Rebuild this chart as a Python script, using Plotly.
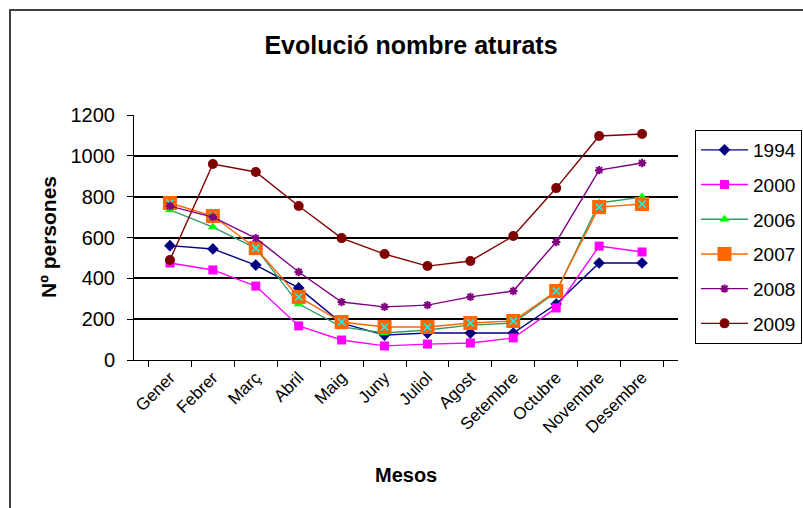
import plotly.graph_objects as go

months = ["Gener", "Febrer", "Març", "Abril", "Maig", "Juny", "Juliol",
          "Agost", "Setembre", "Octubre", "Novembre", "Desembre"]

v1994 = [560, 544, 465, 353, 181, 122, 132, 132, 132, 274, 475, 475]
v2000 = [475, 441, 362, 167, 98, 69, 78, 83, 108, 255, 558, 529]
v2006 = [735, 651, 548, 274, 162, 132, 147, 171, 181, 333, 769, 798]
v2007 = [769, 705, 548, 309, 186, 162, 162, 181, 191, 338, 749, 764]
v2008 = [754, 700, 597, 431, 284, 260, 269, 309, 338, 578, 930, 965]
v2009 = [490, 960, 921, 754, 597, 519, 460, 485, 607, 842, 1097, 1107]

y_ticks = [0, 200, 400, 600, 800, 1000, 1200]
grid_vals = [200, 400, 600, 800, 1000]

FONT = "Liberation Sans, Arial, sans-serif"

fig = go.Figure()

# invisible trace on y2 so the grid axis is drawn
fig.add_trace(go.Scatter(x=[months[0]], y=[None], yaxis="y2", showlegend=False,
                         hoverinfo="skip", mode="markers"))

def add(name, vals, lcolor, symbol, mcolor, size, mline=None):
    fig.add_trace(go.Scatter(
        x=months, y=vals, name=name, legendgroup=name, mode="lines+markers",
        line=dict(color=lcolor, width=1.4),
        marker=dict(symbol=symbol, color=mcolor, size=size,
                    line=mline if mline else dict(width=0)),
    ))

add("1994", v1994, "#000080", "diamond", "#000080", 9)
add("2000", v2000, "#FF00FF", "square", "#FF00FF", 9)
add("2006", v2006, "#339966", "triangle-up", "#00FF00", 9)
add("2007", v2007, "#FF6600", "square", "#FF6600", 14)
fig.add_trace(go.Scatter(
    x=months, y=v2007, name="2007", legendgroup="2007", showlegend=False,
    mode="markers", hoverinfo="skip",
    marker=dict(symbol="x-thin", size=7, line=dict(color="#00FFFF", width=1.5)),
))
add("2008", v2008, "#800080", "asterisk-open", "#800080", 7,
    mline=dict(color="#800080", width=2))
add("2009", v2009, "#800000", "circle", "#800000", 10)

fig.update_layout(
    width=803, height=508,
    margin=dict(l=134, r=125, t=115, b=148, autoexpand=False),
    paper_bgcolor="white", plot_bgcolor="white",
    font=dict(family=FONT, color="black"),
    title=dict(text="<b>Evolució nombre aturats</b>", x=411/803, xanchor="center",
               y=1-45/508, yanchor="middle", font=dict(size=25, family=FONT)),
    xaxis=dict(
        type="category", showgrid=False, showline=True, linecolor="black", linewidth=1,
        ticks="outside", ticklen=6, tickcolor="black", tickson="boundaries",
        tickangle=-45, tickfont=dict(size=17, family=FONT), zeroline=False,
        automargin=False,
    ),
    yaxis=dict(
        range=[0, 1200], tickvals=y_ticks, showgrid=False, showline=True,
        linecolor="black", linewidth=1, ticks="outside", ticklen=6, tickcolor="black",
        tickfont=dict(size=20, family=FONT), zeroline=False, ticklabelstandoff=8,
        automargin=False,
    ),
    yaxis2=dict(
        overlaying="y", range=[0, 1200], tickvals=grid_vals, showgrid=True,
        gridcolor="black", gridwidth=1.5, showticklabels=False, ticks="",
        showline=False, zeroline=False, side="left",
    ),
    legend=dict(
        x=(695-134)/544, y=(360-130)/245, xanchor="left", yanchor="top",
        bordercolor="black", borderwidth=1, bgcolor="white", itemwidth=47,
        font=dict(size=19, family=FONT), traceorder="grouped", tracegroupgap=7,
    ),
    showlegend=True,
)

fig.add_annotation(text="<b>Mesos</b>", xref="paper", yref="paper",
                   x=(406-134)/544, y=(360-475)/245, showarrow=False,
                   font=dict(size=20, family=FONT), xanchor="center", yanchor="middle")
fig.add_annotation(text="<b>Nº persones</b>", xref="paper", yref="paper",
                   x=(48-134)/544, y=(360-237)/245, showarrow=False, textangle=-90,
                   font=dict(size=21, family=FONT), xanchor="center", yanchor="middle")

fig.add_shape(type="rect", xref="paper", yref="paper",
              x0=(10-134)/544, y0=-3, x1=3, y1=(360-10)/245,
              line=dict(color="#404040", width=2), fillcolor="rgba(0,0,0,0)", layer="below")

fig.write_html("out.html", config={"displayModeBar": False},
               post_script="document.body.style.margin='0';")
